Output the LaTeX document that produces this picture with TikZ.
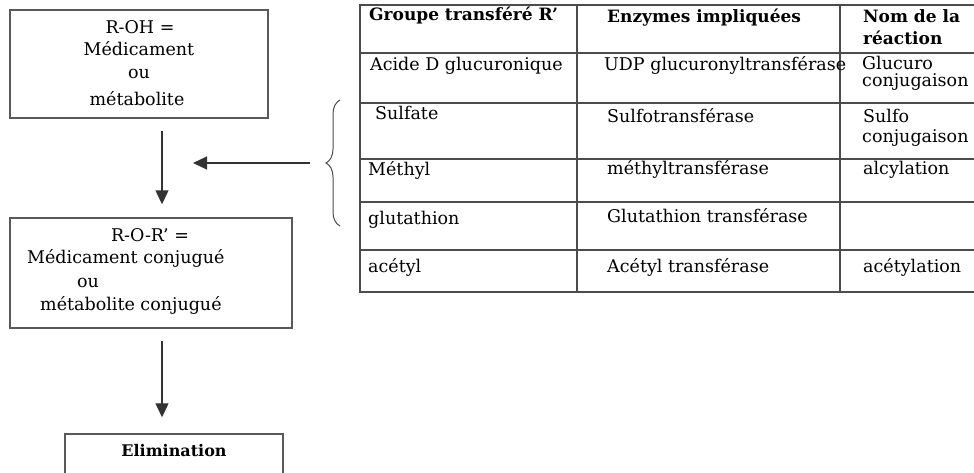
\documentclass[tikz,border=0pt]{standalone}
\usepackage{fontspec}
\setmainfont{DejaVu Serif}
\usetikzlibrary{arrows.meta,decorations.pathreplacing}
\tikzset{
  flowbox/.style={draw=black!65, line width=1.4pt, inner sep=0pt},
  flowarrow/.style={draw=black!80, line width=1.2pt, -{Triangle[width=13pt,length=14pt]}},
  cell/.style={anchor=mid west, inner sep=0pt},
  boxtext/.style={anchor=mid, inner sep=0pt},
  gridline/.style={draw=black!70, line width=1.3pt}
}
\begin{document}
\begin{tikzpicture}[x=1pt, y=-1pt, font=\fontsize{17.5}{20}\selectfont]
  \useasboundingbox (0,0) rectangle (974,473);
  \clip (0,0) rectangle (974,473);
  % Boxes
  \node[flowbox, minimum width=258pt, minimum height=108pt] (roh) at (139,64) {};
  \node[flowbox, minimum width=282pt, minimum height=110pt] (ror) at (151,273) {};
  \node[flowbox, minimum width=218pt, minimum height=60pt] (elim) at (174,464) {};
  % Box texts
  \node[boxtext] (rohA) at (140,31) {R-OH =};
  \node[boxtext] (rohB) at (139,53) {Médicament};
  \node[boxtext] (rohC) at (139,76) {ou};
  \node[boxtext] (rohD) at (137,103) {métabolite};
  \node[boxtext] (rorA) at (150,239) {R-O-R’ =};
  \node[cell] (rorB) at (27,261) {Médicament conjugué};
  \node[cell] (rorC) at (77,285) {ou};
  \node[cell] (rorD) at (40,308) {métabolite conjugué};
  \node[boxtext, font=\fontsize{16}{20}\selectfont\bfseries] (elimA) at (174,454) {Elimination};
  % Arrows
  \coordinate (axis) at (162,0);
  \draw[flowarrow, shorten <=12pt, shorten >=13pt] (roh.south -| axis) -- (ror.north -| axis);
  \draw[flowarrow, shorten <=12pt, shorten >=16pt] (ror.south -| axis) -- (elim.north -| axis);
  % Brace
  \coordinate (bracebot) at (340,226);
  \coordinate (bracetop) at (340,100);
  \coordinate (bracetip) at (325,163);
  \coordinate (arrowend) at (193,163);
  \draw[decorate, decoration={brace, amplitude=14pt}, draw=black!70, line width=1pt] (bracebot) -- (bracetop);
  \draw[flowarrow, shorten <=15pt] (bracetip) -- (arrowend);
  % Table grid
  \foreach \y in {5,53,103,159,202,250,292}
    \draw[gridline] (360,\y) -- (980,\y);
  \draw[gridline, line width=2pt] (360,4) -- (360,293);
  \foreach \x in {577,840}
    \draw[gridline] (\x,5) -- (\x,292);
  % Header
  \begin{scope}[every node/.style={cell, font=\fontsize{17}{20}\selectfont\bfseries}]
    \node (headA) at (369,18) {Groupe transféré R’};
    \node (headB) at (607,20) {Enzymes impliquées};
    \node (headC) at (863,20) {Nom de la};
    \node (headD) at (863,42) {réaction};
  \end{scope}
  % Cells
  \foreach \x/\y/\t [count=\i] in {
      370/68/Acide D glucuronique, 375/117/Sulfate, 368/173/Méthyl,
      368/222/glutathion, 368/270/acétyl,
      604/68/UDP glucuronyltransférase, 607/120/Sulfotransférase,
      607/172/méthyltransférase, 607/220/Glutathion transférase,
      607/270/Acétyl transférase,
      862/67/Glucuro, 862/84/conjugaison, 863/120/Sulfo, 862/140/conjugaison,
      863/172/alcylation, 863/270/acétylation}
    \node[cell] (cell\i) at (\x,\y) {\t};
\end{tikzpicture}
\end{document}
